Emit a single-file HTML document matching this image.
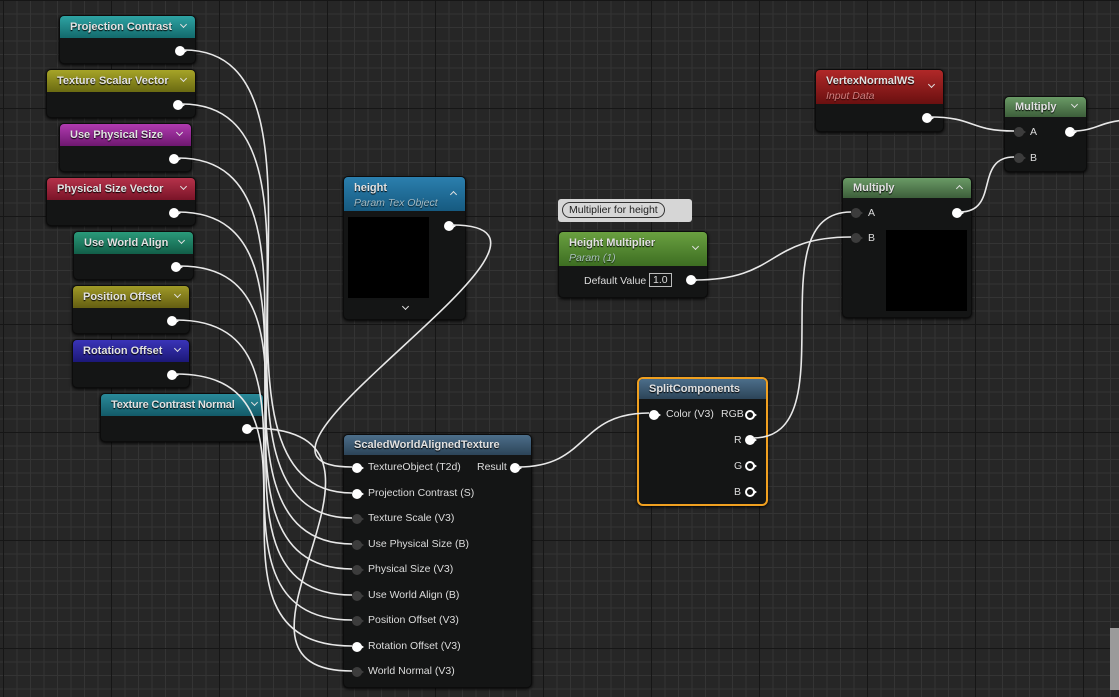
<!DOCTYPE html>
<html><head><meta charset="utf-8"><style>
body{margin:0;width:1119px;height:697px;overflow:hidden;position:relative;font-family:"Liberation Sans",sans-serif;
background-color:#262626;
background-image:
linear-gradient(to right,#161616 1px,transparent 1px),
linear-gradient(to bottom,#161616 1px,transparent 1px),
linear-gradient(to right,#343434 1px,transparent 1px),
linear-gradient(to bottom,#343434 1px,transparent 1px);
background-size:108px 108px,108px 108px,13.5px 13.5px,13.5px 13.5px;
background-position:3px 0,0 0,3px 0,0 0;}
.n{position:absolute;background:#141515;border-radius:5px;box-shadow:0 1px 3px #000;border:1px solid #0c0c0c;}
.h{position:absolute;left:0;right:0;top:0;border-radius:4px 4px 0 0;color:#e2e2e2;font-size:11px;font-weight:bold;padding:5px 0 0 10px;box-sizing:border-box;text-shadow:0 1px 1px #000;white-space:nowrap;}
.h i{display:block;font-weight:normal;font-size:10.5px;color:#cfd8d8;opacity:.75;margin-top:3px;}
.cv{position:absolute;right:9px;top:6px;width:4px;height:4px;border-right:1.5px solid #e0e0e0;border-bottom:1.5px solid #e0e0e0;transform:rotate(45deg);}
.up{transform:rotate(-135deg);top:9px}
.p{position:absolute;width:10px;height:10px;border-radius:50%;background:#fff;}
.p:after{content:"";position:absolute;left:9px;top:3px;border-left:3px solid #fff;border-top:2px solid transparent;border-bottom:2px solid transparent;}
.d{background:#3c3c3c}.d:after{border-left-color:#3c3c3c}
.o{background:transparent;border:2px solid #fff;width:6px;height:6px}.o:after{left:7px;top:1px}
.t{position:absolute;color:#dcdcdc;font-size:10.5px;white-space:nowrap;}
svg{position:absolute;left:0;top:0;z-index:5}
</style></head><body>
<svg width="1119" height="697" fill="none" stroke="#e8e8e8" stroke-width="1.6">
<path d="M184 50 C360 50,176 493,352 493"/>
<path d="M182 104 C358 104,176 518,352 518"/>
<path d="M178 158 C354 158,176 544,352 544"/>
<path d="M178 212 C354 212,176 569,352 569"/>
<path d="M180 266 C356 266,176 595,352 595"/>
<path d="M176 320 C352 320,176 620,352 620"/>
<path d="M176 374 C352 374,176 646,352 646"/>
<path d="M251 428 C440 428,190 671,352 671"/>
<path d="M452 225 C617 225,191 467,352 467"/>
<path d="M518 467 C590 467,577 413,649 413"/>
<path d="M695 280 C780 280,766 237,851 237"/>
<path d="M753 438 C850 438,754 212,851 212"/>
<path d="M960 212 C1000 212,974 157,1014 157"/>
<path d="M930 117 C975 117,969 131,1014 131"/>
<path d="M1073 131 C1095 131,1100 122,1125 120"/>
</svg>

<div class="n" style="left:59px;top:15px;width:135px;height:47px"><div class="h" style="height:22px;background:linear-gradient(#2ea3a3,#136a6c)">Projection Contrast<span class="cv"></span></div><div class="p" style="left:115px;top:30px"></div></div>
<div class="n" style="left:46px;top:69px;width:148px;height:47px"><div class="h" style="height:22px;background:linear-gradient(#a6a428,#6a6a12)">Texture Scalar Vector<span class="cv"></span></div><div class="p" style="left:126px;top:30px"></div></div>
<div class="n" style="left:59px;top:123px;width:131px;height:47px"><div class="h" style="height:22px;background:linear-gradient(#b03bb0,#6e1870)">Use Physical Size<span class="cv"></span></div><div class="p" style="left:109px;top:30px"></div></div>
<div class="n" style="left:46px;top:177px;width:148px;height:47px"><div class="h" style="height:22px;background:linear-gradient(#b5324a,#7a1428)">Physical Size Vector<span class="cv"></span></div><div class="p" style="left:122px;top:30px"></div></div>
<div class="n" style="left:73px;top:231px;width:119px;height:47px"><div class="h" style="height:22px;background:linear-gradient(#2a9a7a,#125e48)">Use World Align<span class="cv"></span></div><div class="p" style="left:97px;top:30px"></div></div>
<div class="n" style="left:72px;top:285px;width:116px;height:47px"><div class="h" style="height:22px;background:linear-gradient(#a09a28,#645e12)">Position Offset<span class="cv"></span></div><div class="p" style="left:94px;top:30px"></div></div>
<div class="n" style="left:72px;top:339px;width:116px;height:47px"><div class="h" style="height:22px;background:linear-gradient(#3a34b8,#1c1878)">Rotation Offset<span class="cv"></span></div><div class="p" style="left:94px;top:30px"></div></div>
<div class="n" style="left:100px;top:393px;width:162px;height:47px"><div class="h" style="height:22px;background:linear-gradient(#2a8a9a,#135a68);letter-spacing:-0.2px">Texture Contrast Normal<span class="cv" style="right:6px"></span></div><div class="p" style="left:141px;top:30px"></div></div>

<div class="n" style="left:343px;top:176px;width:121px;height:142px"><div class="h" style="height:34px;background:linear-gradient(#2b7fae,#165a80)">height<i>Param Tex Object</i><span class="cv up" style="top:15px"></span></div>
<div style="position:absolute;left:4px;top:40px;width:81px;height:81px;background:#000"></div><div class="p" style="left:100px;top:44px"></div><span class="cv" style="top:127px;right:57px"></span></div>

<div style="position:absolute;left:558px;top:199px;width:134px;height:23px;background:#d6d6d6;border-radius:3px"><div style="position:absolute;left:4px;top:3px;border:1px solid #333;border-radius:9px;padding:1px 6px;font-size:10.5px;color:#222">Multiplier for height</div></div>
<div class="n" style="left:558px;top:231px;width:148px;height:65px"><div class="h" style="height:34px;background:linear-gradient(#6aa040,#3d6e22)">Height Multiplier<i style="color:#cde">Param (1)</i><span class="cv" style="top:12px"></span></div>
<span class="t" style="left:25px;top:43px">Default Value</span><span class="t" style="left:90px;top:41px;border:1px solid #bbb;padding:0 3px">1.0</span><div class="p" style="left:127px;top:43px"></div></div>

<div class="n" style="left:815px;top:69px;width:127px;height:61px"><div class="h" style="height:34px;background:linear-gradient(#b02828,#6a1010)">VertexNormalWS<i style="color:#f0a0a0">Input Data</i><span class="cv" style="top:12px"></span></div><div class="p" style="left:106px;top:43px"></div></div>

<div class="n" style="left:1004px;top:96px;width:81px;height:74px"><div class="h" style="height:20px;padding-top:4px;background:linear-gradient(#6a9a66,#3d5e3a)">Multiply<span class="cv" style="top:5px"></span></div>
<div class="p d" style="left:9px;top:30px"></div><span class="t" style="left:25px;top:29px">A</span><div class="p" style="left:60px;top:30px"></div>
<div class="p d" style="left:9px;top:56px"></div><span class="t" style="left:25px;top:55px">B</span></div>

<div class="n" style="left:842px;top:177px;width:128px;height:139px"><div class="h" style="height:20px;padding-top:4px;background:linear-gradient(#6a9a66,#3d5e3a)">Multiply<span class="cv up" style="top:8px"></span></div>
<div class="p d" style="left:8px;top:30px"></div><span class="t" style="left:25px;top:29px">A</span><div class="p" style="left:109px;top:30px"></div>
<div class="p d" style="left:8px;top:55px"></div><span class="t" style="left:25px;top:54px">B</span>
<div style="position:absolute;left:43px;top:52px;width:81px;height:81px;background:#000"></div></div>

<div class="n" style="left:637px;top:377px;width:127px;height:125px;border:2px solid #f0a020;border-radius:6px"><div class="h" style="height:20px;padding-top:4px;background:linear-gradient(#4c6e8a,#2c4458)">SplitComponents</div>
<div class="p" style="left:10px;top:31px"></div><span class="t" style="left:27px;top:29px">Color (V3)</span><span class="t" style="left:82px;top:29px">RGB</span><div class="p o" style="left:106px;top:31px"></div>
<span class="t" style="left:95px;top:55px">R</span><div class="p" style="left:106px;top:56px"></div>
<span class="t" style="left:95px;top:81px">G</span><div class="p o" style="left:106px;top:82px"></div>
<span class="t" style="left:95px;top:107px">B</span><div class="p o" style="left:106px;top:108px"></div></div>

<div class="n" style="left:343px;top:434px;width:187px;height:252px"><div class="h" style="height:20px;padding-top:4px;background:linear-gradient(#4c6e8a,#2c4458)">ScaledWorldAlignedTexture</div>
<div class="p" style="left:8px;top:28px"></div><span class="t" style="left:24px;top:26px">TextureObject (T2d)</span><span class="t" style="left:133px;top:26px">Result</span><div class="p" style="left:166px;top:28px"></div>
<div class="p" style="left:8px;top:54px"></div><span class="t" style="left:24px;top:52px">Projection Contrast (S)</span>
<div class="p d" style="left:8px;top:79px"></div><span class="t" style="left:24px;top:77px">Texture Scale (V3)</span>
<div class="p d" style="left:8px;top:105px"></div><span class="t" style="left:24px;top:103px">Use Physical Size (B)</span>
<div class="p d" style="left:8px;top:130px"></div><span class="t" style="left:24px;top:128px">Physical Size (V3)</span>
<div class="p d" style="left:8px;top:156px"></div><span class="t" style="left:24px;top:154px">Use World Align (B)</span>
<div class="p d" style="left:8px;top:181px"></div><span class="t" style="left:24px;top:179px">Position Offset (V3)</span>
<div class="p" style="left:8px;top:207px"></div><span class="t" style="left:24px;top:205px">Rotation Offset (V3)</span>
<div class="p d" style="left:8px;top:232px"></div><span class="t" style="left:24px;top:230px">World Normal (V3)</span></div>

<div style="position:absolute;left:1110px;top:628px;width:9px;height:62px;background:#9a9a9a"></div>
</body></html>
